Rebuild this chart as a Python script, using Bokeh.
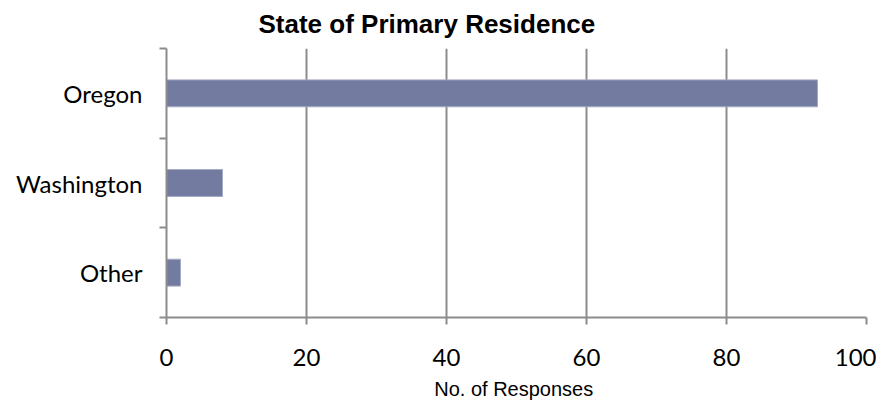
from bokeh.plotting import figure
from bokeh.models import FixedTicker, ColumnDataSource
from bokeh.embed import file_html
from bokeh.resources import INLINE

categories = ["Other", "Washington", "Oregon"]
responses = [2, 8, 93]
x_ticks = [0, 20, 40, 60, 80, 100]

pos = [i + 0.5 for i in range(len(categories))]
src = ColumnDataSource(dict(y=pos, v=responses, cat=categories))

p = figure(width=876, height=403, output_backend="svg", toolbar_location=None,
           x_range=(0, 100), y_range=(0, len(categories)),
           min_border_left=166, min_border_right=10, min_border_bottom=86, min_border_top=48)
p.outline_line_color = None
p.background_fill_color = "white"

p.hbar(y="y", right="v", left=0, height=0.30, source=src,
       fill_color="#737ca0", line_color="#a4abc6", line_width=1)

GRAY = "#8c8c8c"
# x axis
p.xaxis.ticker = FixedTicker(ticks=x_ticks)
p.xaxis.axis_line_color = GRAY
p.xaxis.axis_line_width = 2
p.xaxis.major_tick_line_color = GRAY
p.xaxis.major_tick_line_width = 2
p.xaxis.major_tick_in = 0
p.xaxis.major_tick_out = 7
p.xaxis.minor_tick_line_color = None
p.xaxis.major_label_standoff = 24
p.xaxis.major_label_text_font = "Lato"
p.xaxis.major_label_text_font_size = "24px"
p.xaxis.major_label_text_color = "black"
p.xaxis.axis_label = "No. of  Responses"
p.xaxis.axis_label_text_font = "Liberation Sans"
p.xaxis.axis_label_text_font_style = "normal"
p.xaxis.axis_label_text_font_size = "20px"
p.xaxis.axis_label_standoff = 9
p.xaxis.axis_label_text_color = "black"

# y axis
p.yaxis.ticker = FixedTicker(ticks=pos, minor_ticks=list(range(len(categories) + 1)))
p.yaxis.major_label_overrides = {pp: c for pp, c in zip(pos, categories)}
p.yaxis.axis_line_color = GRAY
p.yaxis.axis_line_width = 2
p.yaxis.major_tick_line_color = None
p.yaxis.minor_tick_line_color = GRAY
p.yaxis.minor_tick_line_width = 2
p.yaxis.minor_tick_in = 0
p.yaxis.minor_tick_out = 7
p.yaxis.major_label_standoff = 17
p.yaxis.major_label_text_font = "Lato"
p.yaxis.major_label_text_font_size = "24px"
p.yaxis.major_label_text_color = "black"

p.xgrid.ticker = FixedTicker(ticks=x_ticks)
p.xgrid.grid_line_color = GRAY
p.xgrid.grid_line_width = 2
p.ygrid.grid_line_color = None

p.title.text = "State of Primary Residence"
p.title.text_font = "Liberation Sans"
p.title.text_font_style = "bold"
p.title.text_font_size = "26px"
p.title.text_color = "black"
p.title.text_line_height = 0.8
p.title.align = "left"
p.title.vertical_align = "top"
p.title.offset = 92
p.title.standoff = 16

open("out.html", "w").write(file_html(p, INLINE))
